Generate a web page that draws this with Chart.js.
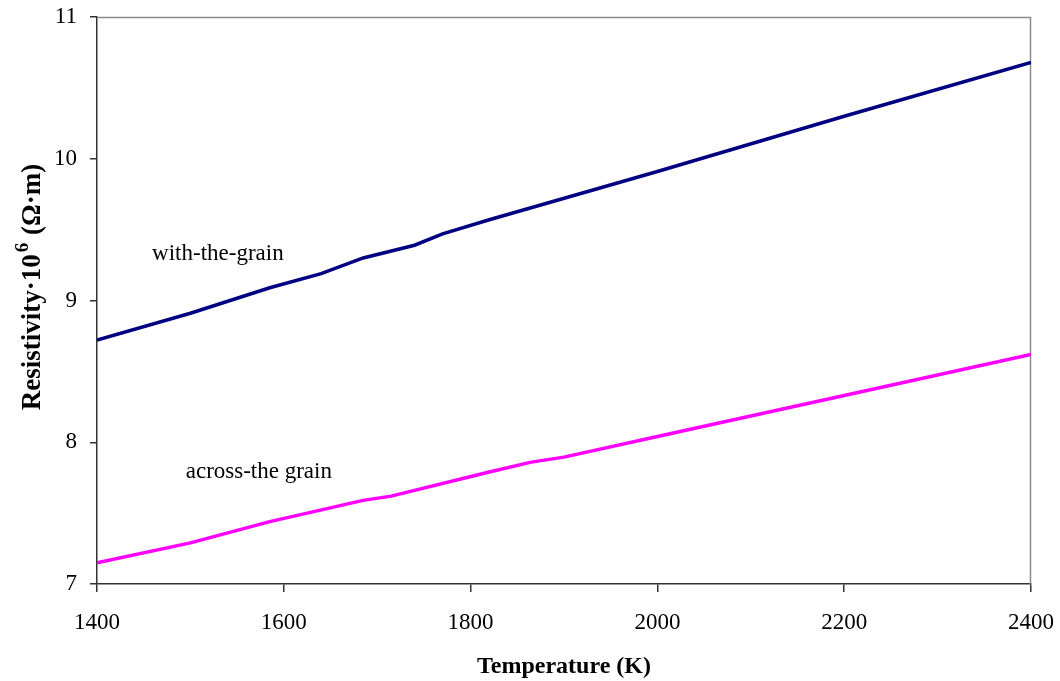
<!DOCTYPE html>
<html>
<head>
<meta charset="utf-8">
<script src="https://cdn.jsdelivr.net/npm/chart.js@4/dist/chart.umd.min.js"></script>
<style>
  html, body { margin: 0; padding: 0; background: #ffffff; }
  #wrap { width: 1060px; height: 681px; }
</style>
</head>
<body>
<div id="wrap"><canvas id="c" width="1060" height="681"></canvas></div>
<script>
// Electrical resistivity of graphite vs. temperature
const withGrainT = [1400, 1500, 1585, 1640, 1685, 1740, 1770, 1820, 2000, 2200, 2400];
const withGrainRho = [8.72, 8.91, 9.09, 9.19, 9.30, 9.39, 9.47, 9.57, 9.91, 10.30, 10.68];

const acrossGrainT = [1400, 1500, 1585, 1685, 1715, 1820, 1865, 1900, 2000, 2200, 2400];
const acrossGrainRho = [7.15, 7.29, 7.44, 7.59, 7.62, 7.79, 7.86, 7.895, 8.04, 8.33, 8.62];

const xTicks = [1400, 1600, 1800, 2000, 2200, 2400];
const yTicks = [7, 8, 9, 10, 11];

const seriesLabels = ['with-the-grain', 'across-the grain'];
// label anchor (left edge, vertical centre) in data units
const labelAnchors = [
  { x: 1459, y: 9.33 },
  { x: 1495, y: 7.79 }
];

const SERIF = '"Liberation Serif", "Times New Roman", serif';

const toPoints = (xs, ys) => xs.map((x, i) => ({ x: x, y: ys[i] }));

// frame lines on top/right plus the rotated y title with superscript
const framePlugin = {
  id: 'frame',
  beforeDatasetsDraw(chart) {
    const { ctx, chartArea: a } = chart;
    ctx.save();
    ctx.strokeStyle = '#8c8c8c';
    ctx.lineWidth = 1.5;
    ctx.beginPath();
    ctx.moveTo(a.left, a.top + 0.5);
    ctx.lineTo(a.right - 0.5, a.top + 0.5);
    ctx.lineTo(a.right - 0.5, a.bottom);
    ctx.stroke();
    ctx.restore();
  },
  afterDraw(chart) {
    const { ctx, scales } = chart;
    ctx.save();
    // series labels
    ctx.fillStyle = '#000';
    ctx.font = '23px ' + SERIF;
    ctx.textAlign = 'left';
    ctx.textBaseline = 'middle';
    seriesLabels.forEach((t, i) => {
      ctx.fillText(t, scales.x.getPixelForValue(labelAnchors[i].x), scales.y.getPixelForValue(labelAnchors[i].y));
    });

    // y-axis title: Resistivity·10^6 (Ω·m)
    const main = 'Resistivity\u00b710';
    const sup = '6';
    const tail = ' (\u03a9\u00b7m)';
    const fMain = 'bold 27px ' + SERIF;
    const fSup = 'bold 19px ' + SERIF;
    ctx.font = fMain; const w1 = ctx.measureText(main).width;
    ctx.font = fSup; const w2 = ctx.measureText(sup).width + 3;
    ctx.font = fMain; const w3 = ctx.measureText(tail).width;
    const total = w1 + w2 + w3;
    const cx = 30, cy = 287;
    ctx.translate(cx, cy);
    ctx.rotate(-Math.PI / 2);
    ctx.textBaseline = 'alphabetic';
    let x0 = -total / 2;
    const base = 10;
    ctx.font = fMain; ctx.fillText(main, x0, base); x0 += w1 + 2;
    ctx.font = fSup; ctx.fillText(sup, x0, base - 12); x0 += w2 - 2;
    ctx.font = fMain; ctx.fillText(tail, x0, base);
    ctx.restore();
  }
};

new Chart(document.getElementById('c'), {
  type: 'line',
  data: {
    datasets: [
      {
        label: seriesLabels[0],
        data: toPoints(withGrainT, withGrainRho),
        borderColor: '#000080',
        borderWidth: 3.5,
        pointRadius: 0,
        tension: 0,
        fill: false
      },
      {
        label: seriesLabels[1],
        data: toPoints(acrossGrainT, acrossGrainRho),
        borderColor: '#ff00ff',
        borderWidth: 3.5,
        pointRadius: 0,
        tension: 0,
        fill: false
      }
    ]
  },
  options: {
    responsive: false,
    animation: false,
    devicePixelRatio: 1,
    layout: { padding: { left: 0, top: 17, right: 29, bottom: 0 } },
    plugins: {
      legend: { display: false },
      tooltip: { enabled: false },
      title: { display: false }
    },
    scales: {
      x: {
        type: 'linear',
        min: 1400,
        max: 2400,
        afterBuildTicks(scale) { scale.ticks = xTicks.map(v => ({ value: v })); },
        afterFit(scale) {
          scale.height = 97;
          scale.paddingLeft = 0; scale.paddingRight = 0;
        },
        border: { display: true, color: '#333', width: 1.5 },
        grid: { drawOnChartArea: false, drawTicks: true, tickLength: 8, color: '#333', lineWidth: 1.5 },
        ticks: {
          color: '#000',
          padding: 17,
          maxRotation: 0,
          font: { family: SERIF, size: 23 },
          callback: v => String(v)
        },
        title: {
          display: true,
          text: 'Temperature (K)',
          color: '#000',
          font: { family: SERIF, size: 24, weight: 'bold' },
          padding: { top: 14, bottom: 0 }
        }
      },
      y: {
        type: 'linear',
        min: 7,
        max: 11,
        afterBuildTicks(scale) { scale.ticks = yTicks.map(v => ({ value: v })); },
        afterFit(scale) {
          scale.width = 97;
          scale.paddingTop = 0; scale.paddingBottom = 0;
        },
        border: { display: true, color: '#333', width: 1.5 },
        grid: { drawOnChartArea: false, drawTicks: true, tickLength: 7, color: '#333', lineWidth: 1.5 },
        ticks: {
          color: '#000',
          padding: 13,
          font: { family: SERIF, size: 23 },
          callback: v => String(v)
        }
      }
    }
  },
  plugins: [framePlugin]
});
</script>
</body>
</html>
